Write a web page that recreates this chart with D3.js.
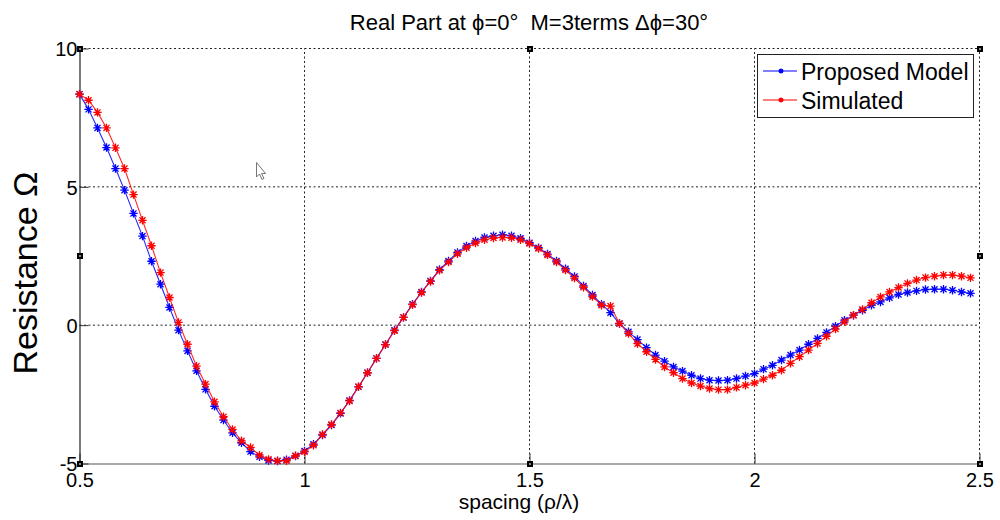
<!DOCTYPE html>
<html>
<head>
<meta charset="utf-8">
<script src="https://cdn.jsdelivr.net/npm/d3@7"></script>
<style>
  html, body { margin: 0; padding: 0; background: #fff; }
  svg { display: block; }
  text { font-family: "Liberation Sans", Arial, sans-serif; fill: #000; white-space: pre; }
</style>
</head>
<body>
<svg id="chart" width="1000" height="520"></svg>
<script>
// ---- data ----
const spacing = d3.range(0, 100).map(i => +(0.5 + i * 0.02).toFixed(2));
const proposedModel = [
  8.35, 7.80, 7.13, 6.42, 5.66, 4.88, 4.04, 3.22, 2.31, 1.48,
  0.64, -0.18, -0.93, -1.65, -2.32, -2.93, -3.43, -3.89, -4.25, -4.57,
  -4.76, -4.89, -4.91, -4.86, -4.73, -4.55, -4.30, -3.97, -3.61, -3.19,
  -2.72, -2.23, -1.72, -1.20, -0.70, -0.18, 0.28, 0.76, 1.20, 1.60,
  2.01, 2.32, 2.63, 2.86, 3.04, 3.17, 3.23, 3.27, 3.23, 3.14,
  2.98, 2.80, 2.57, 2.32, 2.04, 1.76, 1.42, 1.09, 0.76, 0.45,
  0.06, -0.24, -0.52, -0.81, -1.08, -1.30, -1.51, -1.66, -1.81, -1.93,
  -1.99, -2.00, -1.99, -1.93, -1.84, -1.75, -1.59, -1.45, -1.26, -1.08,
  -0.90, -0.69, -0.48, -0.26, -0.04, 0.18, 0.36, 0.54, 0.72, 0.84,
  0.99, 1.11, 1.18, 1.24, 1.29, 1.30, 1.30, 1.26, 1.20, 1.15
];
const simulated = [
  8.35, 8.13, 7.69, 7.13, 6.41, 5.66, 4.72, 3.79, 2.87, 1.90,
  1.00, 0.10, -0.69, -1.48, -2.13, -2.77, -3.31, -3.77, -4.18, -4.42,
  -4.70, -4.85, -4.90, -4.90, -4.72, -4.58, -4.34, -3.95, -3.59, -3.17,
  -2.74, -2.22, -1.72, -1.20, -0.70, -0.20, 0.28, 0.74, 1.18, 1.58,
  1.98, 2.28, 2.58, 2.80, 2.97, 3.09, 3.15, 3.17, 3.16, 3.09,
  2.95, 2.77, 2.54, 2.28, 1.99, 1.70, 1.37, 1.03, 0.72, 0.69,
  0.06, -0.30, -0.67, -0.96, -1.24, -1.51, -1.72, -1.93, -2.09, -2.20,
  -2.29, -2.33, -2.33, -2.25, -2.17, -2.09, -1.95, -1.81, -1.63, -1.38,
  -1.14, -0.90, -0.66, -0.40, -0.14, 0.12, 0.36, 0.57, 0.81, 1.02,
  1.20, 1.36, 1.51, 1.63, 1.72, 1.77, 1.81, 1.81, 1.77, 1.71
];
const xTicks = [0.5, 1, 1.5, 2, 2.5];
const xTickLabels = ["0.5", "1", "1.5", "2", "2.5"];
const yTicks = [-5, 0, 5, 10];
const yTickLabels = ["-5", "0", "5", "10"];
const seriesNames = ["Proposed Model", "Simulated"];
const seriesColors = ["#0000ff", "#ff0000"];

// ---- layout ----
const svg = d3.select("#chart");
const x = d3.scaleLinear().domain([0.5, 2.5]).range([79.5, 979.5]);
const y = d3.scaleLinear().domain([-5, 10]).range([463.5, 48.5]);

// grid (dashed)
const grid = svg.append("g").attr("stroke", "#222").attr("stroke-width", 1)
  .attr("stroke-dasharray", "2,2.5").attr("fill", "none");
xTicks.filter(t => t > 0.5).forEach(t => {
  grid.append("line").attr("x1", x(t)).attr("x2", x(t)).attr("y1", y(-5)).attr("y2", y(10));
});
yTicks.filter(t => t > -5).forEach(t => {
  grid.append("line").attr("x1", x(0.5)).attr("x2", x(2.5)).attr("y1", y(t)).attr("y2", y(t));
});

// axes via d3
const xAxis = d3.axisBottom(x).tickValues(xTicks).tickFormat((d, i) => xTickLabels[i])
  .tickSizeInner(-10).tickSizeOuter(0).tickPadding(9);
const gx = svg.append("g").attr("transform", `translate(0,${y(-5)})`).call(xAxis);
gx.select(".domain").attr("stroke", "#555").attr("stroke-width", 1.2);
gx.selectAll(".tick line").attr("stroke", "#333");
gx.selectAll(".tick text").attr("font-size", 20).attr("font-family", "Liberation Sans, Arial, sans-serif")
  .attr("fill", "#000").attr("dy", "0.72em");

const yAxis = d3.axisLeft(y).tickValues(yTicks).tickFormat((d, i) => yTickLabels[i])
  .tickSizeInner(-9).tickSizeOuter(0).tickPadding(2);
const gy = svg.append("g").attr("transform", `translate(${x(0.5)},0)`).call(yAxis);
gy.select(".domain").attr("stroke", "#222").attr("stroke-width", 1.2);
gy.selectAll(".tick line").attr("stroke", "#333");
gy.selectAll(".tick text").attr("font-size", 20).attr("font-family", "Liberation Sans, Arial, sans-serif")
  .attr("fill", "#000").attr("dy", "0.36em");

// series
function starPath(cx, cy, r) {
  const d = r * 0.72;
  return `M${cx - r},${cy}L${cx + r},${cy}M${cx},${cy - r}L${cx},${cy + r}` +
         `M${cx - d},${cy - d}L${cx + d},${cy + d}M${cx - d},${cy + d}L${cx + d},${cy - d}`;
}
const line = d3.line().x(d => x(d[0])).y(d => y(d[1]));
[proposedModel, simulated].forEach((vals, si) => {
  const pts = spacing.map((s, i) => [s, vals[i]]);
  const g = svg.append("g");
  g.append("path").attr("d", line(pts)).attr("fill", "none")
    .attr("stroke", seriesColors[si]).attr("stroke-width", 1.1).attr("stroke-opacity", 0.85);
  g.append("path").attr("d", pts.map(p => starPath(x(p[0]), y(p[1]), 4.2)).join(""))
    .attr("fill", "none").attr("stroke", seriesColors[si]).attr("stroke-width", 1.3);
});

// selection handles
const handles = [[0.5, 10], [1.5, 10], [2.5, 10], [0.5, 2.5], [2.5, 2.5], [0.5, -5], [1.5, -5], [2.5, -5]];
handles.forEach(h => {
  const hx = Math.round(x(h[0])), hy = Math.round(y(h[1]));
  svg.append("rect").attr("x", hx - 3).attr("y", hy - 3).attr("width", 6).attr("height", 6).attr("fill", "#000");
  svg.append("rect").attr("x", hx - 1).attr("y", hy - 1).attr("width", 2).attr("height", 2).attr("fill", "#888");
});

// legend
const lg = svg.append("g");
lg.append("rect").attr("x", 757.5).attr("y", 54.5).attr("width", 216).attr("height", 63)
  .attr("fill", "#fff").attr("stroke", "#222").attr("stroke-width", 1);
seriesNames.forEach((name, i) => {
  const ly = 71 + i * 29;
  lg.append("line").attr("x1", 763).attr("x2", 797).attr("y1", ly).attr("y2", ly)
    .attr("stroke", seriesColors[i]).attr("stroke-width", 1.1);
  lg.append("path").attr("d", starPath(781, ly, 2.5)).attr("stroke", seriesColors[i])
    .attr("stroke-width", 1.3).attr("fill", "none");
  lg.append("text").attr("x", 801).attr("y", ly + 9).attr("font-size", 23).text(name);
});

// titles
svg.append("text").attr("x", 529).attr("y", 30).attr("text-anchor", "middle").attr("font-size", 22)
  .attr("xml:space", "preserve")
  .text("Real Part at \u03D5=0\u00B0  M=3terms \u0394\u03D5=30\u00B0");
svg.append("text").attr("x", 519).attr("y", 509).attr("text-anchor", "middle").attr("font-size", 21)
  .text("spacing (\u03C1/\u03BB)");
svg.append("text").attr("transform", "translate(37,273) rotate(-90)").attr("text-anchor", "middle")
  .attr("font-size", 34).text("Resistance \u03A9");

// mouse cursor artifact
svg.append("path").attr("d", "M256.5,162.5 L256.5,177 L259.5,174 L262,179.5 L264,178.5 L261.5,173.5 L265.5,173.5 Z")
  .attr("fill", "#fff").attr("stroke", "#777").attr("stroke-width", 1);
</script>
</body>
</html>
